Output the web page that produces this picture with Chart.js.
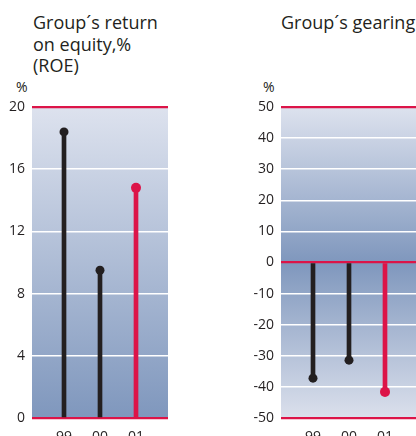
<!DOCTYPE html>
<html>
<head>
<meta charset="utf-8">
<script src="https://cdn.jsdelivr.net/npm/chart.js@4"></script>
<style>
  body { margin: 0; width: 416px; height: 436px; overflow: hidden; position: relative; background: #fff;
         font-family: "Open Sans", sans-serif; color: #231f20; }
  .box { position: absolute; top: 0; height: 460px; }
  .title { position: absolute; font-size: 18px; line-height: 21.5px; white-space: nowrap; }
  .unit { position: absolute; font-size: 14px; line-height: 16px; }
</style>
</head>
<body>
<div class="title" style="left:33px; top:12px;">Group´s return<br>on equity,%<br>(ROE)</div>
<div class="title" style="left:281px; top:12px;">Group´s gearing</div>
<div class="unit" style="left:16px; top:79px;">%</div>
<div class="unit" style="left:263px; top:79px;">%</div>
<div class="box" style="left:0; width:208px;"><canvas id="roe" width="208" height="460"></canvas></div>
<div class="box" style="left:208px; width:230px;"><canvas id="gearing" width="230" height="460"></canvas></div>
<script>
const years = ["99", "00", "01"];
const roeValues = [18.4, 9.5, 14.8];
const roeTicks = [0, 4, 8, 12, 16, 20];
const gearingValues = [-37.2, -31.4, -41.6];
const gearingTicks = [-50, -40, -30, -20, -10, 0, 10, 20, 30, 40, 50];
const stemColors = ["#231f20", "#231f20", "#dc1448"];

const RED = "#dc1448";

function DrawChart(id, values, ticks, redLines, axisWidth, padRight, stops) {
  let ctx = document.getElementById(id);
  let points = values.map((v, i) => ({ x: i, y: v }));
  //background gradient behind the plot
  let bg = {
    id: "bg",
    beforeDraw(chart) {
      let a = chart.chartArea;
      let c = chart.ctx;
      let g = c.createLinearGradient(0, a.top, 0, a.bottom);
      stops.forEach(s => g.addColorStop(s[0], s[1]));
      c.save();
      c.fillStyle = g;
      c.fillRect(a.left, a.top, a.right - a.left, a.bottom - a.top);
      c.restore();
    }
  };
  return new Chart(ctx, {
    type: "bar",
    data: {
      datasets: [
        {
          type: "bar",
          data: points,
          backgroundColor: stemColors,
          barThickness: 4,
          borderWidth: 0
        },
        {
          type: "line",
          data: points,
          showLine: false,
          pointRadius: [4.5, 4.5, 5],
          pointBackgroundColor: stemColors,
          pointBorderWidth: 0
        }
      ]
    },
    options: {
      responsive: false,
      animation: false,
      events: [],
      layout: { padding: { top: 107, left: 0, right: padRight, bottom: 0 } },
      plugins: { legend: { display: false }, tooltip: { enabled: false } },
      scales: {
        x: {
          type: "linear",
          offset: false,
          min: -0.889,
          max: 2.889,
          grid: { display: false },
          border: { display: false },
          afterBuildTicks: s => { s.ticks = years.map((y, i) => ({ value: i })); },
          afterFit: s => { s.height = 42; s.paddingLeft = 0; s.paddingRight = 0; },
          ticks: {
            padding: 3,
            autoSkip: false,
            maxRotation: 0,
            font: { family: "Open Sans", size: 14 },
            color: "#231f20",
            callback: v => years[v]
          }
        },
        y: {
          min: ticks[0],
          max: ticks[ticks.length - 1],
          afterBuildTicks: s => { s.ticks = ticks.map(t => ({ value: t })); },
          afterFit: s => { s.width = axisWidth; s.paddingTop = 0; s.paddingBottom = 0; },
          border: { display: false },
          grid: {
            drawTicks: false,
            color: c => redLines.includes(c.tick.value) ? RED : "#ffffff",
            lineWidth: c => redLines.includes(c.tick.value) ? 2.2 : 1.5
          },
          ticks: {
            padding: 7,
            font: { family: "Open Sans", size: 14 },
            color: "#231f20"
          }
        }
      }
    },
    plugins: [bg]
  });
}

DrawChart("roe", roeValues, roeTicks, [0, 20], 32, 40,
  [[0, "#dde2ee"], [1, "#7f97bd"]]);
DrawChart("gearing", gearingValues, gearingTicks, [-50, 0, 50], 73, 21,
  [[0, "#dde2ee"], [0.5, "#7f97bd"], [1, "#dbe0ec"]]);
</script>
</body>
</html>
